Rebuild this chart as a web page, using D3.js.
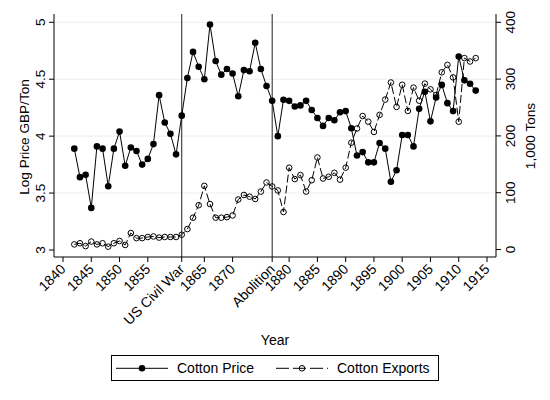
<!DOCTYPE html>
<html>
<head>
<meta charset="utf-8">
<script src="https://cdn.jsdelivr.net/npm/d3@7"></script>
<style>
  body { margin: 0; background: #fff; }
  text { font-family: "Liberation Sans", Arial, sans-serif; fill: #000; }
</style>
</head>
<body>
<div id="chart"></div>
<script>
// years of the two series
const years = d3.range(1842, 1914);
// log price, GBP per ton
const priceVals = [3.89,3.64,3.66,3.37,3.91,3.89,3.56,3.89,4.04,3.74,
    3.90,3.87,3.75,3.80,3.93,4.36,4.12,4.02,3.84,4.18,
    4.51,4.74,4.61,4.50,4.98,4.66,4.54,4.59,4.55,4.35,
    4.58,4.57,4.82,4.59,4.44,4.31,4.00,4.32,4.31,4.26,
    4.27,4.31,4.23,4.16,4.09,4.16,4.14,4.21,4.22,4.07,
    3.83,3.86,3.77,3.77,3.94,3.89,3.60,3.70,4.01,4.01,
    3.91,4.24,4.39,4.13,4.34,4.45,4.29,4.22,4.70,4.49,
    4.46,4.40];
// exports, 1,000 tons
const exportVals = [9,11,6,14,9,11,5,11,15,8,
    29,20,20,22,23,21,22,22,22,26,
    36,56,78,112,80,56,56,57,60,88,
    96,93,89,102,118,111,104,66,144,124,
    131,102,122,162,125,128,135,123,144,188,
    213,235,225,207,237,264,294,251,290,244,
    285,262,292,282,272,312,325,303,225,337,
    331,337];
const xTicks = [1840,1845,1850,1855,1861,1865,1870,1877,1880,1885,1890,1895,1900,1905,1910,1915];
const xTickLabels = {1861: "US Civil War", 1877: "Abolition"};
const eventYears = [1861, 1877];
const leftTicks = [3, 3.5, 4, 4.5, 5];
const rightTicks = [0, 100, 200, 300, 400];

const W = 550, H = 400;
const svg = d3.select("#chart").append("svg")
    .attr("width", W).attr("height", H);

const pLeft = 54, pRight = 496, pTop = 14, pBottom = 257;

const x = d3.scaleLinear().domain([1840, 1915]).range([63, 487]);
const yL = d3.scaleLinear().domain([3, 5]).range([250, 22.3]);
const yR = d3.scaleLinear().domain([0, 400]).range([249.5, 22.3]);

// gridlines
svg.append("g").selectAll("line")
    .data(leftTicks.slice(1))
    .join("line")
    .attr("x1", pLeft).attr("x2", pRight)
    .attr("y1", d => yL(d)).attr("y2", d => yL(d))
    .attr("stroke", "#e8efef").attr("stroke-width", 1);

// event lines
svg.append("g").selectAll("line")
    .data(eventYears)
    .join("line")
    .attr("x1", d => x(d)).attr("x2", d => x(d))
    .attr("y1", pTop).attr("y2", pBottom)
    .attr("stroke", "#222").attr("stroke-width", 1);

// left axis
const gL = svg.append("g").attr("transform", `translate(${pLeft},0)`);
gL.append("line").attr("y1", pTop).attr("y2", pBottom).attr("stroke", "#000");
gL.selectAll("line.t").data(leftTicks).join("line").attr("class", "t")
    .attr("x1", -5).attr("x2", 0)
    .attr("y1", d => yL(d)).attr("y2", d => yL(d)).attr("stroke", "#000");
gL.selectAll("text").data(leftTicks).join("text")
    .attr("transform", d => `translate(-9,${yL(d)}) rotate(-90)`)
    .attr("text-anchor", "middle").attr("font-size", 13.5)
    .text(d => d3.format("~g")(d));
svg.append("text")
    .attr("transform", `translate(29,137) rotate(-90)`)
    .attr("text-anchor", "middle").attr("font-size", 13.6)
    .text("Log Price GBP/Ton");

// right axis
const gR = svg.append("g").attr("transform", `translate(${pRight},0)`);
gR.append("line").attr("y1", pTop).attr("y2", pBottom).attr("stroke", "#000");
gR.selectAll("line.t").data(rightTicks).join("line").attr("class", "t")
    .attr("x1", 0).attr("x2", 5)
    .attr("y1", d => yR(d)).attr("y2", d => yR(d)).attr("stroke", "#000");
gR.selectAll("text").data(rightTicks).join("text")
    .attr("transform", d => `translate(19,${yR(d)}) rotate(-90)`)
    .attr("text-anchor", "middle").attr("font-size", 13.5)
    .text(d => d);
svg.append("text")
    .attr("transform", `translate(535,136) rotate(-90)`)
    .attr("text-anchor", "middle").attr("font-size", 13.6)
    .text("1,000 Tons");

// x axis
const gX = svg.append("g").attr("transform", `translate(0,${pBottom})`);
gX.append("line").attr("x1", pLeft).attr("x2", pRight).attr("stroke", "#000");
gX.selectAll("line.t").data(xTicks).join("line").attr("class", "t")
    .attr("x1", d => x(d)).attr("x2", d => x(d))
    .attr("y1", 0).attr("y2", 5).attr("stroke", "#000");
gX.selectAll("text").data(xTicks).join("text")
    .attr("transform", d => `translate(${x(d) + 3.5},${13}) rotate(-45)`)
    .attr("text-anchor", "end").attr("font-size", 14)
    .text(d => xTickLabels[d] || d);
svg.append("text")
    .attr("x", 275).attr("y", 345)
    .attr("text-anchor", "middle").attr("font-size", 14)
    .text("Year");

// series
const rows = years.map((yr, i) => ({yr, p: priceVals[i], e: exportVals[i]}));

svg.append("path").datum(rows)
    .attr("fill", "none").attr("stroke", "#000").attr("stroke-width", 1)
    .attr("stroke-dasharray", "8,3")
    .attr("d", d3.line().x(d => x(d.yr)).y(d => yR(d.e)));
svg.append("g").selectAll("circle").data(rows).join("circle")
    .attr("cx", d => x(d.yr)).attr("cy", d => yR(d.e)).attr("r", 2.8)
    .attr("fill", "none").attr("stroke", "#000").attr("stroke-width", 1);

svg.append("path").datum(rows)
    .attr("fill", "none").attr("stroke", "#000").attr("stroke-width", 1)
    .attr("d", d3.line().x(d => x(d.yr)).y(d => yL(d.p)));
svg.append("g").selectAll("circle").data(rows).join("circle")
    .attr("cx", d => x(d.yr)).attr("cy", d => yL(d.p)).attr("r", 3.3)
    .attr("fill", "#000");

// legend
const lg = svg.append("g");
lg.append("rect").attr("x", 111.5).attr("y", 355.5).attr("width", 327).attr("height", 25)
    .attr("fill", "#fff").attr("stroke", "#000").attr("stroke-width", 1);
const ly = 368.3;
lg.append("line").attr("x1", 116).attr("x2", 168).attr("y1", ly).attr("y2", ly).attr("stroke", "#000");
lg.append("circle").attr("cx", 142).attr("cy", ly).attr("r", 3.3).attr("fill", "#000");
lg.append("text").attr("x", 177).attr("y", ly + 5).attr("font-size", 14).text("Cotton Price");
lg.append("line").attr("x1", 276).attr("x2", 328).attr("y1", ly).attr("y2", ly)
    .attr("stroke", "#000").attr("stroke-dasharray", "13,4");
lg.append("circle").attr("cx", 302).attr("cy", ly).attr("r", 2.8)
    .attr("fill", "none").attr("stroke", "#000");
lg.append("text").attr("x", 337).attr("y", ly + 5).attr("font-size", 14).text("Cotton Exports");
</script>
</body>
</html>
